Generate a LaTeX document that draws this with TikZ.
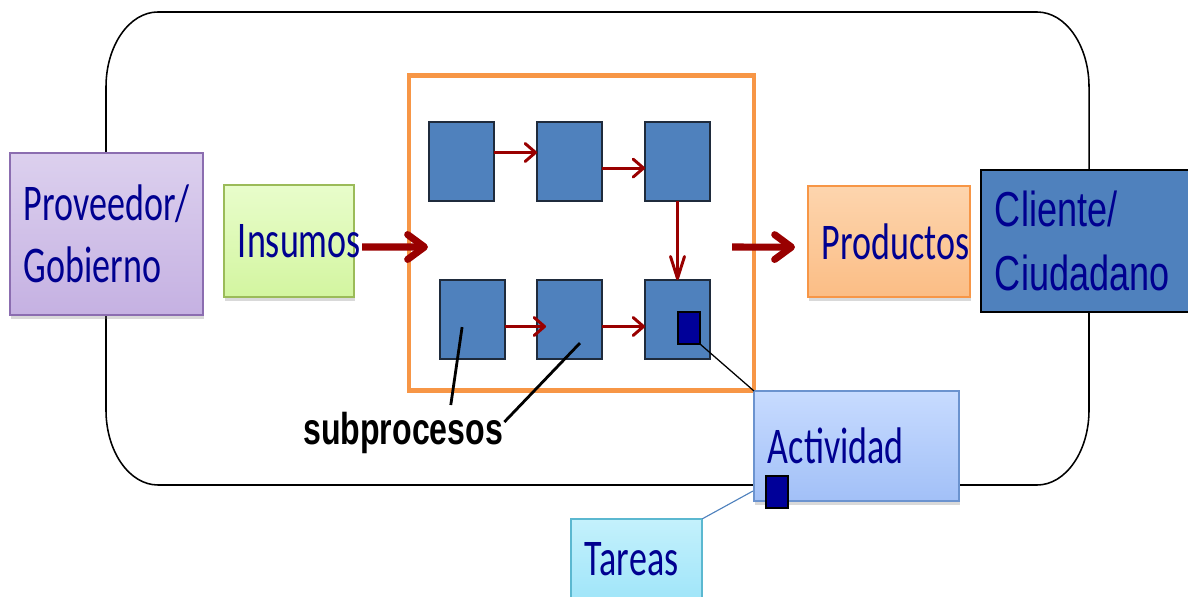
\documentclass[tikz,border=0pt]{standalone}
\usepackage{fontspec}
\newfontfamily\calib[FakeStretch=0.7]{Carlito}
\newfontfamily\arialn[FakeStretch=0.72]{Liberation Sans}
\newfontfamily\arialw[FakeStretch=0.735]{Liberation Sans}
\usetikzlibrary{arrows.meta,shadows}

\definecolor{txtblue}{HTML}{000090}
\definecolor{arrowred}{HTML}{990000}
\definecolor{procblue}{HTML}{4F81BD}
\definecolor{procedge}{HTML}{1F2B3C}
\definecolor{taskblue}{HTML}{000099}
\definecolor{frameorange}{HTML}{F79646}
\definecolor{provtop}{HTML}{DCD0EE}
\definecolor{provbot}{HTML}{C5B1E2}
\definecolor{provedge}{HTML}{8B6DB0}
\definecolor{instop}{HTML}{E8FDCB}
\definecolor{insbot}{HTML}{D3F5A0}
\definecolor{insedge}{HTML}{9BBB59}
\definecolor{prodtop}{HTML}{FDD5AE}
\definecolor{prodbot}{HTML}{FBBD85}
\definecolor{acttop}{HTML}{C7DBFF}
\definecolor{actbot}{HTML}{A2C0F7}
\definecolor{actedge}{HTML}{6B93CF}
\definecolor{tartop}{HTML}{C4F1FC}
\definecolor{tarbot}{HTML}{A0E5F9}
\definecolor{taredge}{HTML}{5BB8D0}

\begin{document}
\begin{tikzpicture}[x=0.025cm, y=0.025cm,
    entity/.style={rectangle, inner xsep=0.35cm, inner ysep=0pt, outer sep=0pt, line width=0.9pt,
        align=left, text=txtblue, font=\calib\fontsize{36.6}{44}\selectfont,
        drop shadow={shadow xshift=1pt, shadow yshift=-2.5pt, opacity=0.3}},
    subproc/.style={draw=procedge, line width=1.1pt, fill=procblue, minimum width=1.625cm,
        minimum height=1.975cm, inner sep=0pt, outer sep=0pt},
    task/.style={draw=black, line width=1pt, fill=taskblue, minimum width=0.55cm,
        minimum height=0.8cm, inner sep=0pt, outer sep=0pt},
    flow/.style={draw=arrowred, line width=2.1pt, -{Straight Barb[round, length=0.26cm, width=0.45cm]}},
    bigflow/.style={draw=arrowred, line width=5pt, -{Straight Barb[round, length=0.42cm, width=0.62cm]}},
]
    \useasboundingbox (0,0) rectangle (1188,597);

    % organisation boundary with flattened corners
    \draw[line width=1.1pt] (158,585) -- (1037,585)
        arc[start angle=90, end angle=0, x radius=1.3cm, y radius=1.875cm] -- (1089,187)
        arc[start angle=0, end angle=-90, x radius=1.3cm, y radius=1.875cm] -- (158,112)
        arc[start angle=270, end angle=180, x radius=1.3cm, y radius=1.875cm] -- (106,510)
        arc[start angle=180, end angle=90, x radius=1.3cm, y radius=1.875cm] -- cycle;

    % process frame
    \node[draw=frameorange, line width=3.2pt, minimum width=8.625cm, minimum height=7.875cm,
        inner sep=0pt, outer sep=0pt] (proc) at (581.5,364) {};

    % supplier, inputs, outputs and customer
    \node[entity, draw=provedge, top color=provtop, bottom color=provbot, minimum width=4.825cm,
        minimum height=4.05cm, text width=4.125cm] (prov) at (106.5,363) {Proveedor/\\Gobierno};
    \node[entity, draw=insedge, top color=instop, bottom color=insbot, minimum width=3.25cm,
        minimum height=2.8cm, text width=2.55cm] (ins) at (289,356) {Insumos};
    \node[entity, draw=frameorange, top color=prodtop, bottom color=prodbot, minimum width=4.05cm,
        minimum height=2.775cm, text width=3.35cm] (prod) at (889,355.5) {Productos};
    \node[draw=black, line width=1.2pt, fill=procblue, inner xsep=0.35cm, inner ysep=0pt,
        align=left, text width=4.775cm, minimum height=3.55cm, text=txtblue,
        font=\arialw\fontsize{34.9}{46}\selectfont] (cli) at (1090.5,356) {Cliente/\\Ciudadano};

    % subprocesses
    \foreach \n/\x/\y in {s1/461.5/435.5, s2/569.5/435.5, s3/677.5/435.5,
                          s4/472.5/277.5, s5/569.5/277.5, s6/677.5/277.5}
        \node[subproc] (\n) at (\x,\y) {};
    \node[task] (task1) at (689,269) {};

    \draw[flow] ([yshift=0.225cm]s1.east) -- ([yshift=0.225cm]s2.west);
    \draw[flow] ([yshift=-0.165cm]s2.east) -- ([yshift=-0.165cm]s3.west);
    \draw[flow, -{Straight Barb[round, length=0.55cm, width=0.35cm]}] (s3.south) -- (s6.north);
    \draw[flow] ([yshift=-0.175cm]s4.east) -- ([xshift=0.225cm, yshift=-0.175cm]s5.west);
    \draw[flow] ([yshift=-0.175cm]s5.east) -- ([yshift=-0.175cm]s6.west);

    % main flow in and out
    \draw[bigflow] ([xshift=0.2cm, yshift=-0.15cm]ins.east) -- ([xshift=0.475cm, yshift=-0.35cm]proc.west);
    \draw[bigflow] ([xshift=-0.55cm, yshift=-0.35cm]proc.east) -- ([xshift=-0.325cm, yshift=-0.14cm]prod.west);

    % activity and tasks
    \node[entity, draw=taredge, top color=tartop, bottom color=tarbot, minimum width=3.275cm,
        minimum height=2.025cm, text width=2.575cm] (tar) at (636.5,37.5) {Tareas};
    \draw[draw=procblue, line width=0.8pt] (tar.north east) -- (753,106);
    \node[entity, draw=actedge, top color=acttop, bottom color=actbot, minimum width=5.125cm,
        minimum height=2.75cm, text width=4.425cm] (act) at (856.5,151) {Actividad};
    \node[task] (task2) at (777,105) {};
    \draw[line width=0.9pt] (task1.south east) -- (act.north west);

    % label for the subprocesses
    \node[anchor=base west, inner sep=0pt, font=\arialn\bfseries\fontsize{31.7}{36}\selectfont]
        (sublbl) at (303,152) {subprocesos};
    \draw[line width=2pt] ([xshift=1.19cm, yshift=0.185cm]sublbl.north) -- ([xshift=-0.26cm, yshift=-0.19cm]s4.center);
    \draw[line width=2pt] ([xshift=0.025cm, yshift=-0.24cm]sublbl.north east) -- ([xshift=0.26cm, yshift=-0.59cm]s5.center);
\end{tikzpicture}
\end{document}
